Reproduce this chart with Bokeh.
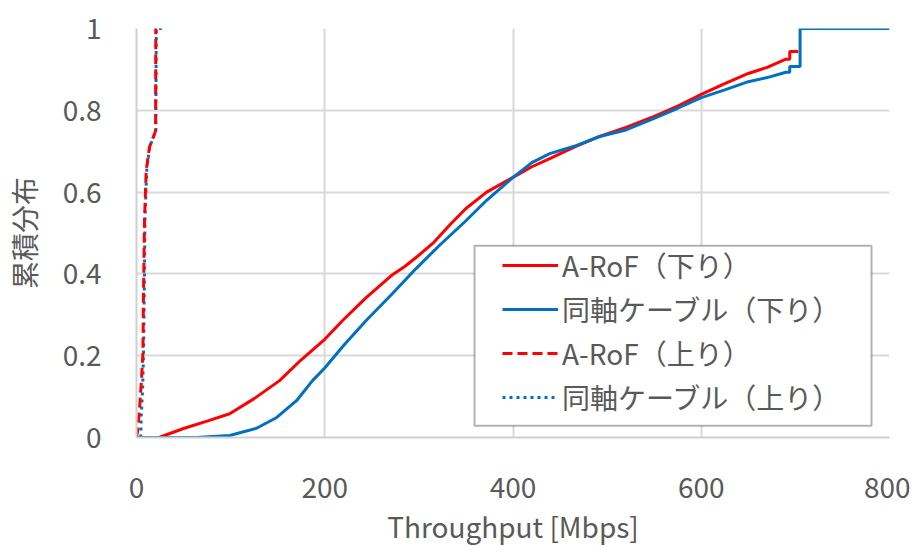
from bokeh.plotting import figure
from bokeh.models import Legend, LegendItem, FixedTicker, BoxAnnotation, Range1d
from bokeh.embed import file_html
from bokeh.resources import INLINE

# ---- data ----
arof_down_x = [24, 50, 75, 99, 125, 152, 175, 200, 219, 244, 272, 285, 297, 315, 333, 350, 372, 400,
               420, 439, 465, 492, 520, 550, 575, 600, 625, 650, 670, 690, 694, 694, 703]
arof_down_y = [0.0, 0.022, 0.04, 0.058, 0.095, 0.139, 0.19, 0.24, 0.286, 0.342, 0.398, 0.418, 0.44,
               0.475, 0.52, 0.56, 0.60, 0.636, 0.662, 0.682, 0.71, 0.736, 0.758, 0.785, 0.81, 0.839,
               0.865, 0.89, 0.905, 0.925, 0.925, 0.944, 0.944]

coax_down_x = [0, 64, 99, 127, 149, 170, 187, 200, 220, 244, 272, 297, 322, 350, 372, 400, 420, 439,
               465, 492, 520, 550, 575, 600, 625, 650, 670, 690, 694, 694, 705, 705, 800]
coax_down_y = [0.0, 0.0, 0.005, 0.022, 0.049, 0.09, 0.139, 0.17, 0.225, 0.286, 0.352, 0.413, 0.47,
               0.53, 0.58, 0.636, 0.672, 0.694, 0.712, 0.736, 0.752, 0.78, 0.805, 0.831, 0.85, 0.87,
               0.88, 0.893, 0.893, 0.907, 0.907, 1.0, 1.0]

arof_up_x = [0, 1.5, 3.5, 5.5, 6.8, 7.5, 8.5, 10.3, 13.8, 18.4, 20.3, 20.5, 22]
arof_up_y = [0.0, 0.02, 0.08, 0.15, 0.205, 0.367, 0.53, 0.653, 0.71, 0.738, 0.75, 1.0, 1.0]

coax_up_x = [4.5, 5.0, 6.5, 7.5, 8.3, 9.0, 10.8, 14.0, 18.5, 20.5, 21.0, 28.0]
coax_up_y = [0.0, 0.05, 0.12, 0.205, 0.367, 0.53, 0.653, 0.71, 0.738, 0.75, 1.0, 1.0]

series_names = ["A-RoF（下り）", "同軸ケーブル（下り）", "A-RoF（上り）", "同軸ケーブル（上り）"]
x_ticks = [0, 200, 400, 600, 800]
y_ticks = [0, 0.2, 0.4, 0.6, 0.8, 1.0]
y_tick_labels = ["0", "0.2", "0.4", "0.6", "0.8", "1"]
x_title = "Throughput [Mbps]"
y_title = "累積分布"

# ---- styling ----
FONT = "Noto Sans CJK JP"
TXT = "#595959"
GRID = "#d9d9d9"
RED = "#ff0000"
BLUE = "#0070c0"
FS = "28px"

p = figure(output_backend="svg", toolbar_location=None,
           frame_width=753, frame_height=409,
           x_range=Range1d(0, 800), y_range=Range1d(0, 1))
p.min_border_left = 129
p.min_border_right = 21
p.min_border_top = 28
p.min_border_bottom = 102
p.outline_line_color = None
p.background_fill_color = "white"
p.border_fill_color = "white"

for ax in (p.xaxis[0], p.yaxis[0]):
    ax.axis_line_color = "#d0d0d0"
    ax.axis_line_width = 2
    ax.major_tick_line_color = None
    ax.minor_tick_line_color = None
    ax.major_label_text_font = FONT
    ax.major_label_text_font_size = FS
    ax.major_label_text_color = TXT
    ax.axis_label_text_font = FONT
    ax.axis_label_text_font_size = FS
    ax.axis_label_text_color = TXT
    ax.axis_label_text_font_style = "normal"

p.xaxis.ticker = FixedTicker(ticks=x_ticks)
p.yaxis.ticker = FixedTicker(ticks=y_ticks)
p.yaxis.major_label_overrides = {t: l for t, l in zip(y_ticks, y_tick_labels)}
p.xaxis.axis_label = x_title
p.yaxis.axis_label = y_title
p.xaxis.major_label_standoff = 33
p.xaxis.axis_label_standoff = 5
p.yaxis.major_label_standoff = 29
p.yaxis.axis_label_standoff = 16

p.xgrid.ticker = FixedTicker(ticks=x_ticks)
p.ygrid.ticker = FixedTicker(ticks=y_ticks)
p.grid.grid_line_color = GRID
p.grid.grid_line_width = 2

r1 = p.line(arof_down_x, arof_down_y, line_color=RED, line_width=3)
r2 = p.line(coax_down_x, coax_down_y, line_color=BLUE, line_width=3)
r4 = p.line(coax_up_x, coax_up_y, line_color=BLUE, line_width=3, line_dash="3 4")
r3 = p.line(arof_up_x, arof_up_y, line_color=RED, line_width=3, line_dash="10 5")

# legend frame
box = BoxAnnotation(left=359.1, right=780.9, bottom=0.029, top=0.469,
                    fill_color="white", fill_alpha=1.0,
                    line_color="black", line_width=2, level="annotation")
p.add_layout(box)

legend = Legend(items=[LegendItem(label=series_names[0], renderers=[r1]),
                       LegendItem(label=series_names[1], renderers=[r2]),
                       LegendItem(label=series_names[2], renderers=[r3]),
                       LegendItem(label=series_names[3], renderers=[r4])],
                location=(366, 20), orientation="vertical",
                padding=0, margin=0, spacing=4,
                glyph_width=56, glyph_height=34, label_height=34, label_standoff=4,
                label_text_font=FONT, label_text_font_size=FS, label_text_color=TXT,
                border_line_color=None, background_fill_alpha=0.0)
p.add_layout(legend)

open("out.html", "w").write(file_html(p, INLINE))
